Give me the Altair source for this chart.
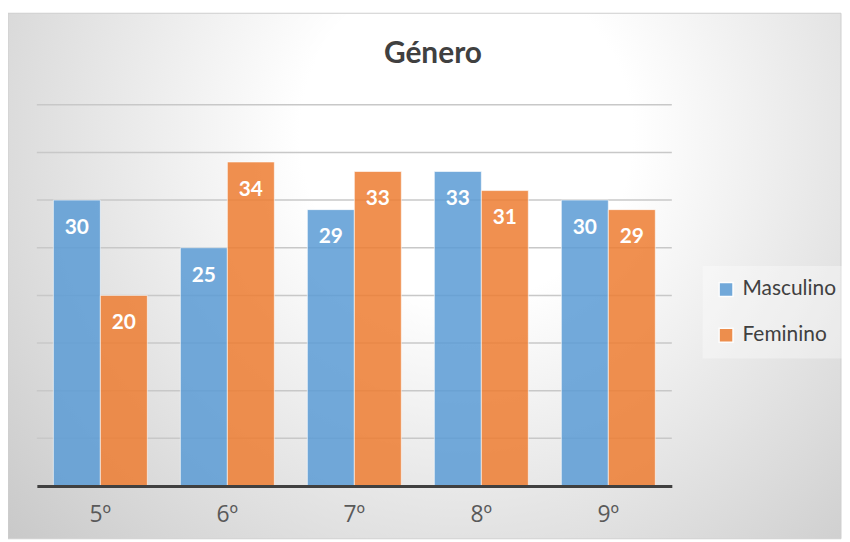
import altair as alt
import pandas as pd

grades = ["5º", "6º", "7º", "8º", "9º"]
masculino = [30, 25, 29, 33, 30]
feminino = [20, 34, 33, 31, 29]
series = ["Masculino", "Feminino"]
colors = ["#5B9BD5", "#ED7D31"]
grid_values = [5, 10, 15, 20, 25, 30, 35, 40]

rows = []
for g, m, f in zip(grades, masculino, feminino):
    rows.append({"grade": g, "serie": "Masculino", "value": m})
    rows.append({"grade": g, "serie": "Feminino", "value": f})
df = pd.DataFrame(rows)
grid_df = pd.DataFrame({"value": grid_values})

W, H = 638, 383
FONT = "Lato"

bg = alt.Chart(alt.Data(values=[{}])).mark_rect(
    fill={
        "gradient": "radial",
        "x1": 0.55, "y1": 0.33, "r1": 0,
        "x2": 0.55, "y2": 0.33, "r2": 0.8,
        "stops": [
            {"offset": 0, "color": "#ffffff"},
            {"offset": 0.25, "color": "#ffffff"},
            {"offset": 1, "color": "#c2c2c2"},
        ],
    },
    stroke="#cfcfcf",
    strokeWidth=1,
).encode(x=alt.value(-29), x2=alt.value(808), y=alt.value(-92), y2=alt.value(436))

x = alt.X(
    "grade:N",
    sort=grades,
    scale=alt.Scale(paddingInner=0.26, paddingOuter=0.13),
    axis=alt.Axis(
        title=None, labelAngle=0, ticks=False, domainColor="#404040", domainWidth=3,
        labelFontSize=23, labelColor="#595959", labelPadding=18,
        labelFont="Open Sans", zindex=1,
    ),
)
yscale = alt.Scale(domain=[0, 40])
y = alt.Y(
    "value:Q",
    scale=yscale,
    axis=alt.Axis(
        title=None, labels=False, ticks=False, domain=False, grid=False,
    ),
)
xoff = alt.XOffset("serie:N", sort=series)
color = alt.Color(
    "serie:N",
    sort=series,
    scale=alt.Scale(domain=series, range=colors),
    legend=alt.Legend(
        title=None, orient="none", legendX=669, legendY=162, symbolType="square",
        symbolSize=196, labelFontSize=21, labelFont=FONT, labelColor="#404040",
        rowPadding=24, padding=13, fillColor="rgba(255,255,255,0.35)",
        symbolOpacity=0.85, labelOffset=6,
    ),
)

grid = alt.Chart(grid_df).mark_rule(color="#c8c8c8", strokeWidth=1.5).encode(
    y=alt.Y("value:Q", scale=yscale)
)

bars = alt.Chart(df).mark_bar(
    fillOpacity=0.85, stroke="white", strokeOpacity=0.6, strokeWidth=1
).encode(x=x, xOffset=xoff, y=y, color=color)

labels = alt.Chart(df).mark_text(
    color="white", fontWeight="bold", fontSize=21, font=FONT, baseline="middle", dy=28
).encode(x=x, xOffset=xoff, y=y, text="value:Q")

chart = alt.layer(bg, grid, bars, labels).properties(
    width=W,
    height=H,
    padding={"left": 29, "top": 96, "right": 171, "bottom": 54},
    autosize="none",
    background="white",
    title=alt.TitleParams(
        "Género", fontSize=30, font=FONT, fontWeight="bold", color="#404040",
        anchor="middle", offset=0, dy=56, dx=79,
    ),
).configure_view(stroke=None)

chart.save("out.html", embed_options={"renderer": "svg", "actions": False})
